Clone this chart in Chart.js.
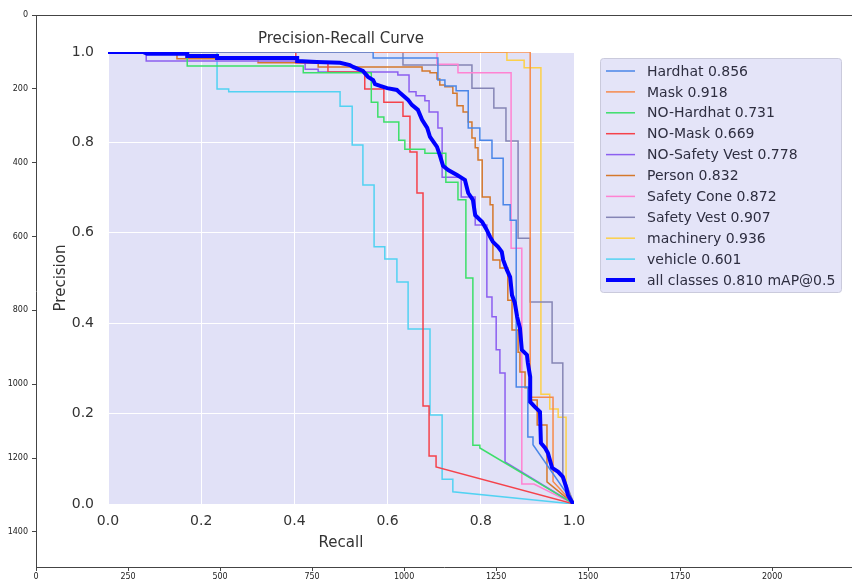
<!DOCTYPE html>
<html>
<head>
<meta charset="utf-8">
<title>Precision-Recall Curve</title>
<script src="https://cdn.jsdelivr.net/npm/chart.js@4.4.1/dist/chart.umd.min.js"></script>
<style>
  body { margin: 0; background: #fff; }
  #wrap { position: relative; width: 852px; height: 580px; }
  #wrap canvas { position: absolute; left: 0; top: 0; }
</style>
</head>
<body>
<div id="wrap">
  <canvas id="frameChart" width="852" height="580"></canvas>
  <canvas id="prChart" width="852" height="580"></canvas>
</div>
<script>
// classes and their AP@0.5
const classNames = ['Hardhat', 'Mask', 'NO-Hardhat', 'NO-Mask', 'NO-Safety Vest', 'Person',
                    'Safety Cone', 'Safety Vest', 'machinery', 'vehicle'];
const classAP = [0.856, 0.918, 0.731, 0.669, 0.778, 0.832, 0.872, 0.907, 0.936, 0.601];
const allClassesMAP = 0.810;

// outer image axes (pixel extent of the saved png) and their ticks
const imageWidth = 2217;
const imageHeight = 1495;
const outerXTicks = [0, 250, 500, 750, 1000, 1250, 1500, 1750, 2000];
const outerYTicks = [0, 200, 400, 600, 800, 1000, 1200, 1400];
const prTicks = [0, 0.2, 0.4, 0.6, 0.8, 1.0];

// recall/precision vertices, [recall, precision]
const hardhatPR = [[0,1],[0.569,1],[0.569,0.987],[0.708,0.987],[0.708,0.938],[0.723,0.938],[0.723,0.925],
  [0.747,0.925],[0.747,0.914],[0.773,0.914],[0.773,0.832],[0.798,0.832],[0.798,0.805],[0.824,0.805],
  [0.824,0.765],[0.848,0.765],[0.848,0.662],[0.863,0.662],[0.863,0.628],[0.876,0.628],[0.876,0.259],
  [0.901,0.259],[0.901,0.148],[0.912,0.148],[0.912,0.131],[1,0]];
const maskPR = [[0,1],[0.906,1],[0.906,0.236],[0.955,0.236],[0.955,0.05],[1,0]];
const noHardhatPR = [[0,1],[0.17,1],[0.17,0.969],[0.419,0.969],[0.419,0.954],[0.565,0.954],[0.565,0.889],
  [0.579,0.889],[0.579,0.856],[0.592,0.856],[0.592,0.845],[0.624,0.845],[0.624,0.805],[0.637,0.805],
  [0.637,0.785],[0.68,0.785],[0.68,0.776],[0.725,0.776],[0.725,0.712],[0.751,0.712],[0.751,0.673],
  [0.768,0.673],[0.768,0.5],[0.783,0.5],[0.783,0.13],[0.798,0.13],[0.798,0.124],[1,0]];
const noMaskPR = [[0,1],[0.403,1],[0.403,0.976],[0.472,0.976],[0.472,0.956],[0.551,0.956],[0.551,0.918],
  [0.592,0.918],[0.592,0.889],[0.633,0.889],[0.633,0.858],[0.648,0.858],[0.648,0.779],[0.663,0.779],
  [0.663,0.688],[0.676,0.688],[0.676,0.217],[0.689,0.217],[0.689,0.106],[0.704,0.106],[0.704,0.082],[1,0]];
const noSafetyVestPR = [[0,1],[0.082,1],[0.082,0.98],[0.423,0.98],[0.423,0.962],[0.451,0.962],[0.451,0.956],
  [0.622,0.956],[0.622,0.949],[0.646,0.949],[0.646,0.912],[0.661,0.912],[0.661,0.903],[0.68,0.903],
  [0.68,0.892],[0.689,0.892],[0.689,0.867],[0.708,0.867],[0.708,0.832],[0.717,0.832],[0.717,0.723],
  [0.758,0.723],[0.758,0.679],[0.788,0.679],[0.788,0.617],[0.813,0.617],[0.813,0.458],[0.824,0.458],
  [0.824,0.414],[0.833,0.414],[0.833,0.341],[0.841,0.341],[0.841,0.29],[0.852,0.29],[0.852,0.093],[1,0]];
const personPR = [[0,1],[0.148,1],[0.148,0.985],[0.322,0.985],[0.322,0.976],[0.451,0.976],[0.451,0.967],
  [0.674,0.967],[0.674,0.958],[0.691,0.958],[0.691,0.954],[0.706,0.954],[0.706,0.94],[0.712,0.94],
  [0.712,0.927],[0.723,0.927],[0.723,0.923],[0.74,0.923],[0.74,0.909],[0.749,0.909],[0.749,0.881],
  [0.762,0.881],[0.762,0.867],[0.773,0.867],[0.773,0.845],[0.781,0.845],[0.781,0.81],[0.788,0.81],
  [0.788,0.788],[0.794,0.788],[0.794,0.761],[0.803,0.761],[0.803,0.679],[0.82,0.679],[0.82,0.662],
  [0.826,0.662],[0.826,0.54],[0.841,0.54],[0.841,0.522],[0.858,0.522],[0.858,0.451],[0.867,0.451],
  [0.867,0.385],[0.88,0.385],[0.88,0.336],[0.884,0.336],[0.884,0.292],[0.895,0.292],[0.895,0.257],
  [0.906,0.257],[0.906,0.23],[0.921,0.23],[0.921,0.175],[0.942,0.175],[0.942,0.049],[1,0]];
const safetyConePR = [[0,1],[0.706,1],[0.706,0.973],[0.751,0.973],[0.751,0.954],[0.865,0.954],[0.865,0.566],
  [0.888,0.566],[0.888,0.044],[0.914,0.044],[1,0]];
const safetyVestPR = [[0,1],[0.633,1],[0.633,0.971],[0.781,0.971],[0.781,0.92],[0.828,0.92],[0.828,0.876],
  [0.854,0.876],[0.854,0.803],[0.88,0.803],[0.88,0.588],[0.906,0.588],[0.906,0.447],[0.953,0.447],
  [0.953,0.312],[0.976,0.312],[0.976,0.064],[1,0]];
const machineryPR = [[0,1],[0.856,1],[0.856,0.982],[0.893,0.982],[0.893,0.965],[0.929,0.965],[0.929,0.243],
  [0.948,0.243],[0.948,0.21],[0.966,0.21],[0.966,0.192],[0.983,0.192],[0.983,0.042],[1,0]];
const vehiclePR = [[0,1],[0.234,1],[0.234,0.918],[0.259,0.918],[0.259,0.912],[0.498,0.912],[0.498,0.88],
  [0.524,0.88],[0.524,0.794],[0.547,0.794],[0.547,0.706],[0.571,0.706],[0.571,0.569],[0.594,0.569],
  [0.594,0.542],[0.62,0.542],[0.62,0.491],[0.644,0.491],[0.644,0.387],[0.691,0.387],[0.691,0.197],
  [0.717,0.197],[0.717,0.055],[0.74,0.055],[0.74,0.027],[1,0]];
const allClassesPR = [[0,1],[0.075,1],[0.084,0.996],[0.17,0.996],[0.17,0.991],[0.234,0.991],[0.234,0.987],
  [0.406,0.987],[0.406,0.98],[0.448,0.978],[0.498,0.976],[0.519,0.971],[0.526,0.967],[0.547,0.958],
  [0.558,0.945],[0.569,0.938],[0.573,0.929],[0.584,0.925],[0.599,0.92],[0.62,0.916],[0.627,0.909],
  [0.644,0.894],[0.652,0.883],[0.665,0.872],[0.674,0.85],[0.685,0.832],[0.691,0.812],[0.706,0.79],
  [0.712,0.772],[0.719,0.748],[0.73,0.739],[0.749,0.728],[0.766,0.717],[0.773,0.688],[0.783,0.673],
  [0.788,0.639],[0.803,0.624],[0.813,0.606],[0.82,0.591],[0.826,0.58],[0.837,0.569],[0.845,0.558],
  [0.848,0.54],[0.856,0.518],[0.863,0.502],[0.867,0.462],[0.873,0.445],[0.878,0.414],[0.884,0.389],
  [0.888,0.341],[0.899,0.33],[0.901,0.312],[0.906,0.281],[0.906,0.226],[0.916,0.215],[0.927,0.204],
  [0.929,0.135],[0.938,0.124],[0.944,0.113],[0.953,0.08],[0.966,0.071],[0.976,0.06],[0.983,0.038],
  [0.987,0.02],[0.996,0.004],[1,0]];

const classCurves = [hardhatPR, maskPR, noHardhatPR, noMaskPR, noSafetyVestPR, personPR,
                     safetyConePR, safetyVestPR, machineryPR, vehiclePR];
const classColors = ['#4a86e8', '#f68a4c', '#3ddf6a', '#f5424b', '#8c5ff0', '#d4782c',
                     '#ff82d2', '#8585b5', '#fcd04a', '#52d2f2'];

Chart.defaults.font.family = "'DejaVu Sans', sans-serif";

// ---------- outer axes (the png is shown with imshow) ----------
const frameTop = {
  id: 'frameTop',
  afterDraw(chart) {
    const { ctx, chartArea: a } = chart;
    ctx.save();
    ctx.strokeStyle = '#444';
    ctx.lineWidth = 1;
    ctx.beginPath();
    ctx.moveTo(a.left, a.top + 0.5);
    ctx.lineTo(a.right, a.top + 0.5);
    ctx.stroke();
    ctx.restore();
  }
};

new Chart(document.getElementById('frameChart'), {
  type: 'scatter',
  data: { datasets: [] },
  options: {
    responsive: false,
    animation: false,
    layout: { padding: { top: 15, right: 0, left: 0, bottom: 0 } },
    plugins: { legend: { display: false }, tooltip: { enabled: false } },
    scales: {
      x: {
        type: 'linear', min: 0, max: imageWidth,
        afterBuildTicks(s) { s.ticks = outerXTicks.map(v => ({ value: v })); },
        ticks: { autoSkip: false, maxRotation: 0, font: { size: 8 }, color: '#222', padding: 1,
                 callback: v => String(v) },
        grid: { drawOnChartArea: false, tickLength: 4, color: '#444' },
        border: { color: '#444' },
        afterFit(s) { s.height = 13; }
      },
      y: {
        type: 'linear', reverse: true, min: 0, max: imageHeight,
        afterBuildTicks(s) { s.ticks = outerYTicks.map(v => ({ value: v })); },
        ticks: { autoSkip: false, font: { size: 8 }, color: '#222', padding: 4,
                 callback: v => String(v) },
        grid: { drawOnChartArea: false, tickLength: 4, color: '#444' },
        border: { color: '#444' },
        afterFit(s) { s.width = 36; }
      }
    }
  },
  plugins: [frameTop]
});

// ---------- the PR curve itself ----------
const plotBg = {
  id: 'plotBg',
  beforeDraw(chart) {
    const { ctx, chartArea: a } = chart;
    ctx.save();
    ctx.fillStyle = '#e1e1f7';
    ctx.fillRect(a.left, a.top, a.right - a.left, a.bottom - a.top);
    ctx.fillStyle = '#333';
    ctx.font = "15px 'DejaVu Sans'";
    ctx.textAlign = 'center';
    ctx.textBaseline = 'middle';
    ctx.fillText('Precision-Recall Curve', (a.left + a.right) / 2, 39);
    ctx.restore();
  }
};

const boxLegend = {
  id: 'boxLegend',
  afterDraw(chart) {
    const ctx = chart.ctx;
    ctx.save();
    ctx.beginPath();
    ctx.roundRect(600.5, 58.5, 241, 234, 3);
    ctx.fillStyle = 'rgba(225,225,247,0.9)';
    ctx.fill();
    ctx.strokeStyle = '#cacadc';
    ctx.lineWidth = 1;
    ctx.stroke();
    ctx.font = "14px 'DejaVu Sans'";
    ctx.textBaseline = 'middle';
    ctx.textAlign = 'left';
    chart.data.datasets.forEach((ds, i) => {
      const y = 71 + i * 20.9;
      ctx.strokeStyle = ds.borderColor;
      ctx.lineWidth = ds.borderWidth;
      ctx.beginPath();
      ctx.moveTo(606, y);
      ctx.lineTo(635, y);
      ctx.stroke();
      ctx.fillStyle = '#2e2e40';
      ctx.fillText(ds.label, 647, y + 1);
    });
    ctx.restore();
  }
};

const datasets = classNames.map((name, i) => ({
  label: name + ' ' + classAP[i].toFixed(3),
  data: classCurves[i].map(([r, p]) => ({ x: r, y: p })),
  borderColor: classColors[i],
  borderWidth: 1.5,
  showLine: true,
  pointRadius: 0,
  order: i
}));
datasets.push({
  label: 'all classes ' + allClassesMAP.toFixed(3) + ' mAP@0.5',
  data: allClassesPR.map(([r, p]) => ({ x: r, y: p })),
  borderColor: '#0000ff',
  borderWidth: 4,
  showLine: true,
  pointRadius: 0,
  order: -1
});

new Chart(document.getElementById('prChart'), {
  type: 'scatter',
  data: { datasets },
  options: {
    responsive: false,
    animation: false,
    layout: { padding: { top: 52, right: 278, left: 0, bottom: 0 } },
    plugins: { legend: { display: false }, tooltip: { enabled: false } },
    elements: { line: { tension: 0 } },
    scales: {
      x: {
        type: 'linear', min: 0, max: 1,
        afterBuildTicks(s) { s.ticks = prTicks.map(v => ({ value: v })); },
        ticks: { maxRotation: 0, font: { size: 14 }, color: '#333', padding: 9,
                 callback: v => v.toFixed(1) },
        grid: { color: '#ffffff', lineWidth: 1, drawTicks: false },
        border: { display: false },
        title: { display: true, text: 'Recall', font: { size: 15 }, color: '#333', padding: { top: 0, bottom: 28 } },
        afterFit(s) { s.height = 76; }
      },
      y: {
        type: 'linear', min: 0, max: 1,
        afterBuildTicks(s) { s.ticks = prTicks.map(v => ({ value: v })); },
        ticks: { font: { size: 14 }, color: '#333', padding: 14,
                 callback: v => v.toFixed(1) },
        grid: { color: '#ffffff', lineWidth: 1, drawTicks: false },
        border: { display: false },
        title: { display: true, text: 'Precision', font: { size: 15 }, color: '#333', padding: { top: 52, bottom: 0 } },
        afterFit(s) { s.width = 108; }
      }
    }
  },
  plugins: [plotBg, boxLegend]
});
</script>
</body>
</html>
